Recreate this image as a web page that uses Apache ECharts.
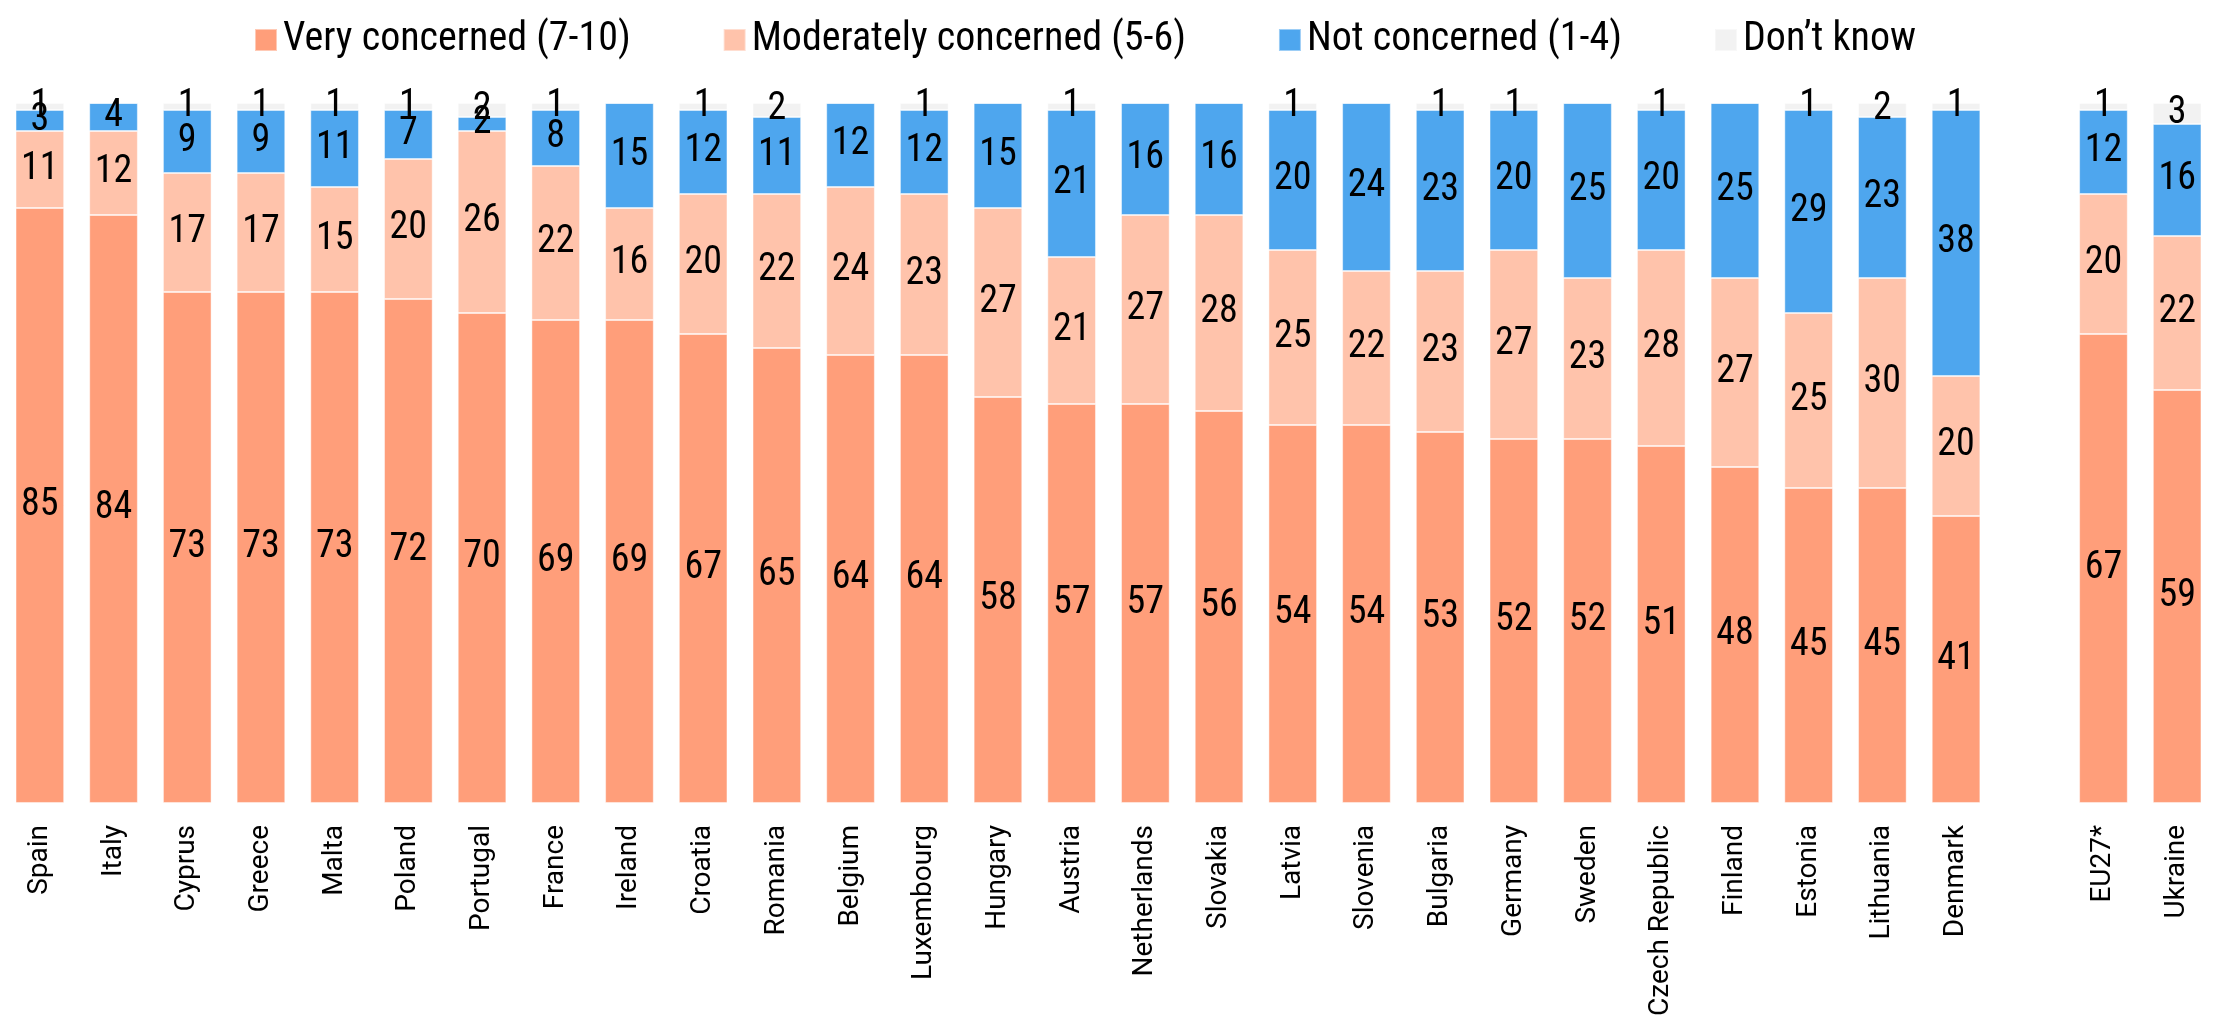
<!DOCTYPE html>
<html>
<head>
<meta charset="utf-8">
<script src="https://cdn.jsdelivr.net/npm/echarts@6/dist/echarts.min.js"></script>
<style>
html,body{margin:0;padding:0;background:#fff;}
#main{width:2219px;height:1019px;}
</style>
</head>
<body>
<div id="main"></div>
<script>
const categories = ['Spain','Italy','Cyprus','Greece','Malta','Poland','Portugal','France','Ireland','Croatia','Romania','Belgium','Luxembourg','Hungary','Austria','Netherlands','Slovakia','Latvia','Slovenia','Bulgaria','Germany','Sweden','Czech Republic','Finland','Estonia','Lithuania','Denmark','','EU27*','Ukraine'];
const veryConcerned = [85,84,73,73,73,72,70,69,69,67,65,64,64,58,57,57,56,54,54,53,52,52,51,48,45,45,41,null,67,59];
const moderatelyConcerned = [11,12,17,17,15,20,26,22,16,20,22,24,23,27,21,27,28,25,22,23,27,23,28,27,25,30,20,null,20,22];
const notConcerned = [3,4,9,9,11,7,2,8,15,12,11,12,12,15,21,16,16,20,24,23,20,25,20,25,29,23,38,null,12,16];
const dontKnow = [1,0,1,1,1,1,2,1,0,1,2,0,1,0,1,0,0,1,0,1,1,0,1,0,1,2,1,null,1,3];
const seriesNames = ['Very concerned (7-10)','Moderately concerned (5-6)','Not concerned (1-4)','Don\u2019t know'];
const colors = ['#FF9E7A','#FFC3AB','#4EA6EE','#F2F2F2'];

const condensed = "'Roboto Condensed', 'Liberation Sans Narrow', 'DejaVu Sans Condensed', 'Roboto', sans-serif";

const chart = echarts.init(document.getElementById('main'));
const datasets = [veryConcerned, moderatelyConcerned, notConcerned, dontKnow];
const series = datasets.map((d, i) => ({
  name: seriesNames[i],
  type: 'bar',
  stack: 'total',
  data: d,
  barWidth: '66%',
  itemStyle: { color: colors[i], borderColor: 'rgba(255,255,255,0.45)', borderWidth: 1 },
  label: {
    show: true,
    position: 'inside',
    color: '#000',
    fontFamily: condensed,
    fontSize: 38,
    formatter: p => (p.value ? String(p.value) : '')
  },
  emphasis: { disabled: true }
}));

chart.setOption({
  animation: false,
  color: colors,
  legend: {
    top: 15,
    left: 249,
    itemWidth: 22,
    itemHeight: 22,
    itemGap: 92,
    icon: 'rect',
    textStyle: { fontFamily: condensed, fontSize: 40, color: '#000', padding: [0, 0, 0, 1] },
    data: seriesNames
  },
  grid: { left: 3, right: 5, top: 103, bottom: 212, containLabel: false },
  xAxis: {
    type: 'category',
    data: categories,
    axisLine: { show: false },
    axisTick: { show: false },
    axisLabel: {
      rotate: 90,
      interval: 0,
      margin: 22,
      color: '#000',
      fontFamily: 'Roboto, sans-serif',
      fontSize: 28
    }
  },
  yAxis: {
    type: 'value',
    min: 0,
    max: 100,
    show: false,
    splitLine: { show: false }
  },
  series: series
});
</script>
</body>
</html>
